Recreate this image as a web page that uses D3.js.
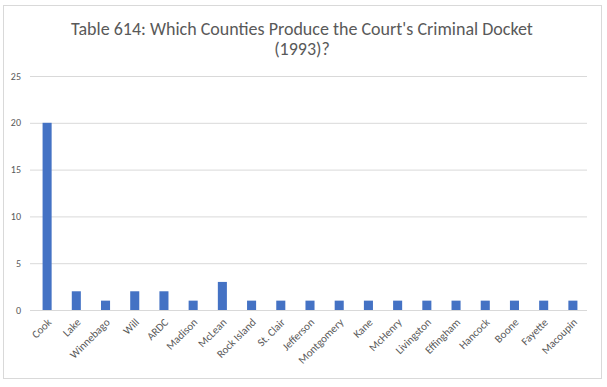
<!DOCTYPE html>
<html>
<head>
<meta charset="utf-8">
<script src="https://cdn.jsdelivr.net/npm/d3@7"></script>
<style>
  body { margin: 0; background: #fff; }
  svg { font-family: Calibri, Carlito, Lato, sans-serif; }
</style>
</head>
<body>
<svg width="607" height="387"></svg>
<script>
// Data
var counties = ['Cook', 'Lake', 'Winnebago', 'Will', 'ARDC', 'Madison', 'McLean', 'Rock Island',
  'St. Clair', 'Jefferson', 'Montgomery', 'Kane', 'McHenry', 'Livingston', 'Effingham',
  'Hancock', 'Boone', 'Fayette', 'Macoupin']
var cases = [20, 2, 1, 2, 2, 1, 3, 1, 1, 1, 1, 1, 1, 1, 1, 1, 1, 1, 1]
var yTicks = [0, 5, 10, 15, 20, 25]
var title1 = "Table 614: Which Counties Produce the Court's Criminal Docket"
var title2 = '(1993)?'

var svg = d3.select('svg')
var margin = { left: 32.5, right: 19.5, top: 76, bottom: 77 }
var width = 607, height = 387

// chart frame
svg.append('rect')
  .attr('x', 3.5).attr('y', 5.5)
  .attr('width', 598).attr('height', 373)
  .attr('fill', '#fff')
  .attr('stroke', '#d9d9d9')

var x = d3.scaleBand()
  .domain(counties)
  .range([margin.left, width - margin.right])
  .paddingInner(0.69)
  .paddingOuter(0.345)

var y = d3.scaleLinear()
  .domain([0, 25])
  .range([height - margin.bottom, margin.top])

// gridlines
svg.append('g')
  .selectAll('line')
  .data(yTicks)
  .enter()
  .append('line')
  .attr('x1', 30)
  .attr('x2', 587)
  .attr('y1', d => y(d) + 0.5)
  .attr('y2', d => y(d) + 0.5)
  .attr('stroke', '#d9d9d9')

// y labels
svg.append('g')
  .selectAll('text')
  .data(yTicks)
  .enter()
  .append('text')
  .attr('x', 21)
  .attr('y', d => y(d))
  .attr('dy', '0.35em')
  .attr('text-anchor', 'end')
  .attr('font-size', 10)
  .attr('fill', '#595959')
  .text(d => d)

// bars
svg.append('g')
  .selectAll('rect')
  .data(cases)
  .enter()
  .append('rect')
  .attr('x', (d, i) => x(counties[i]))
  .attr('width', x.bandwidth())
  .attr('y', d => y(d))
  .attr('height', d => y(0) - y(d))
  .attr('fill', '#4472c4')

// x labels
svg.append('g')
  .selectAll('text')
  .data(counties)
  .enter()
  .append('text')
  .attr('transform', d => 'translate(' + (x(d) + x.bandwidth() / 2 + 5) + ',' + (y(0) + 13) + ') rotate(-45)')
  .attr('text-anchor', 'end')
  .attr('font-size', 11)
  .attr('fill', '#595959')
  .text(d => d)

// title
svg.append('text')
  .attr('x', 302).attr('y', 35)
  .attr('text-anchor', 'middle')
  .attr('font-size', 18)
  .attr('fill', '#595959')
  .text(title1)
svg.append('text')
  .attr('x', 302).attr('y', 55)
  .attr('text-anchor', 'middle')
  .attr('font-size', 18)
  .attr('fill', '#595959')
  .text(title2)
</script>
</body>
</html>
